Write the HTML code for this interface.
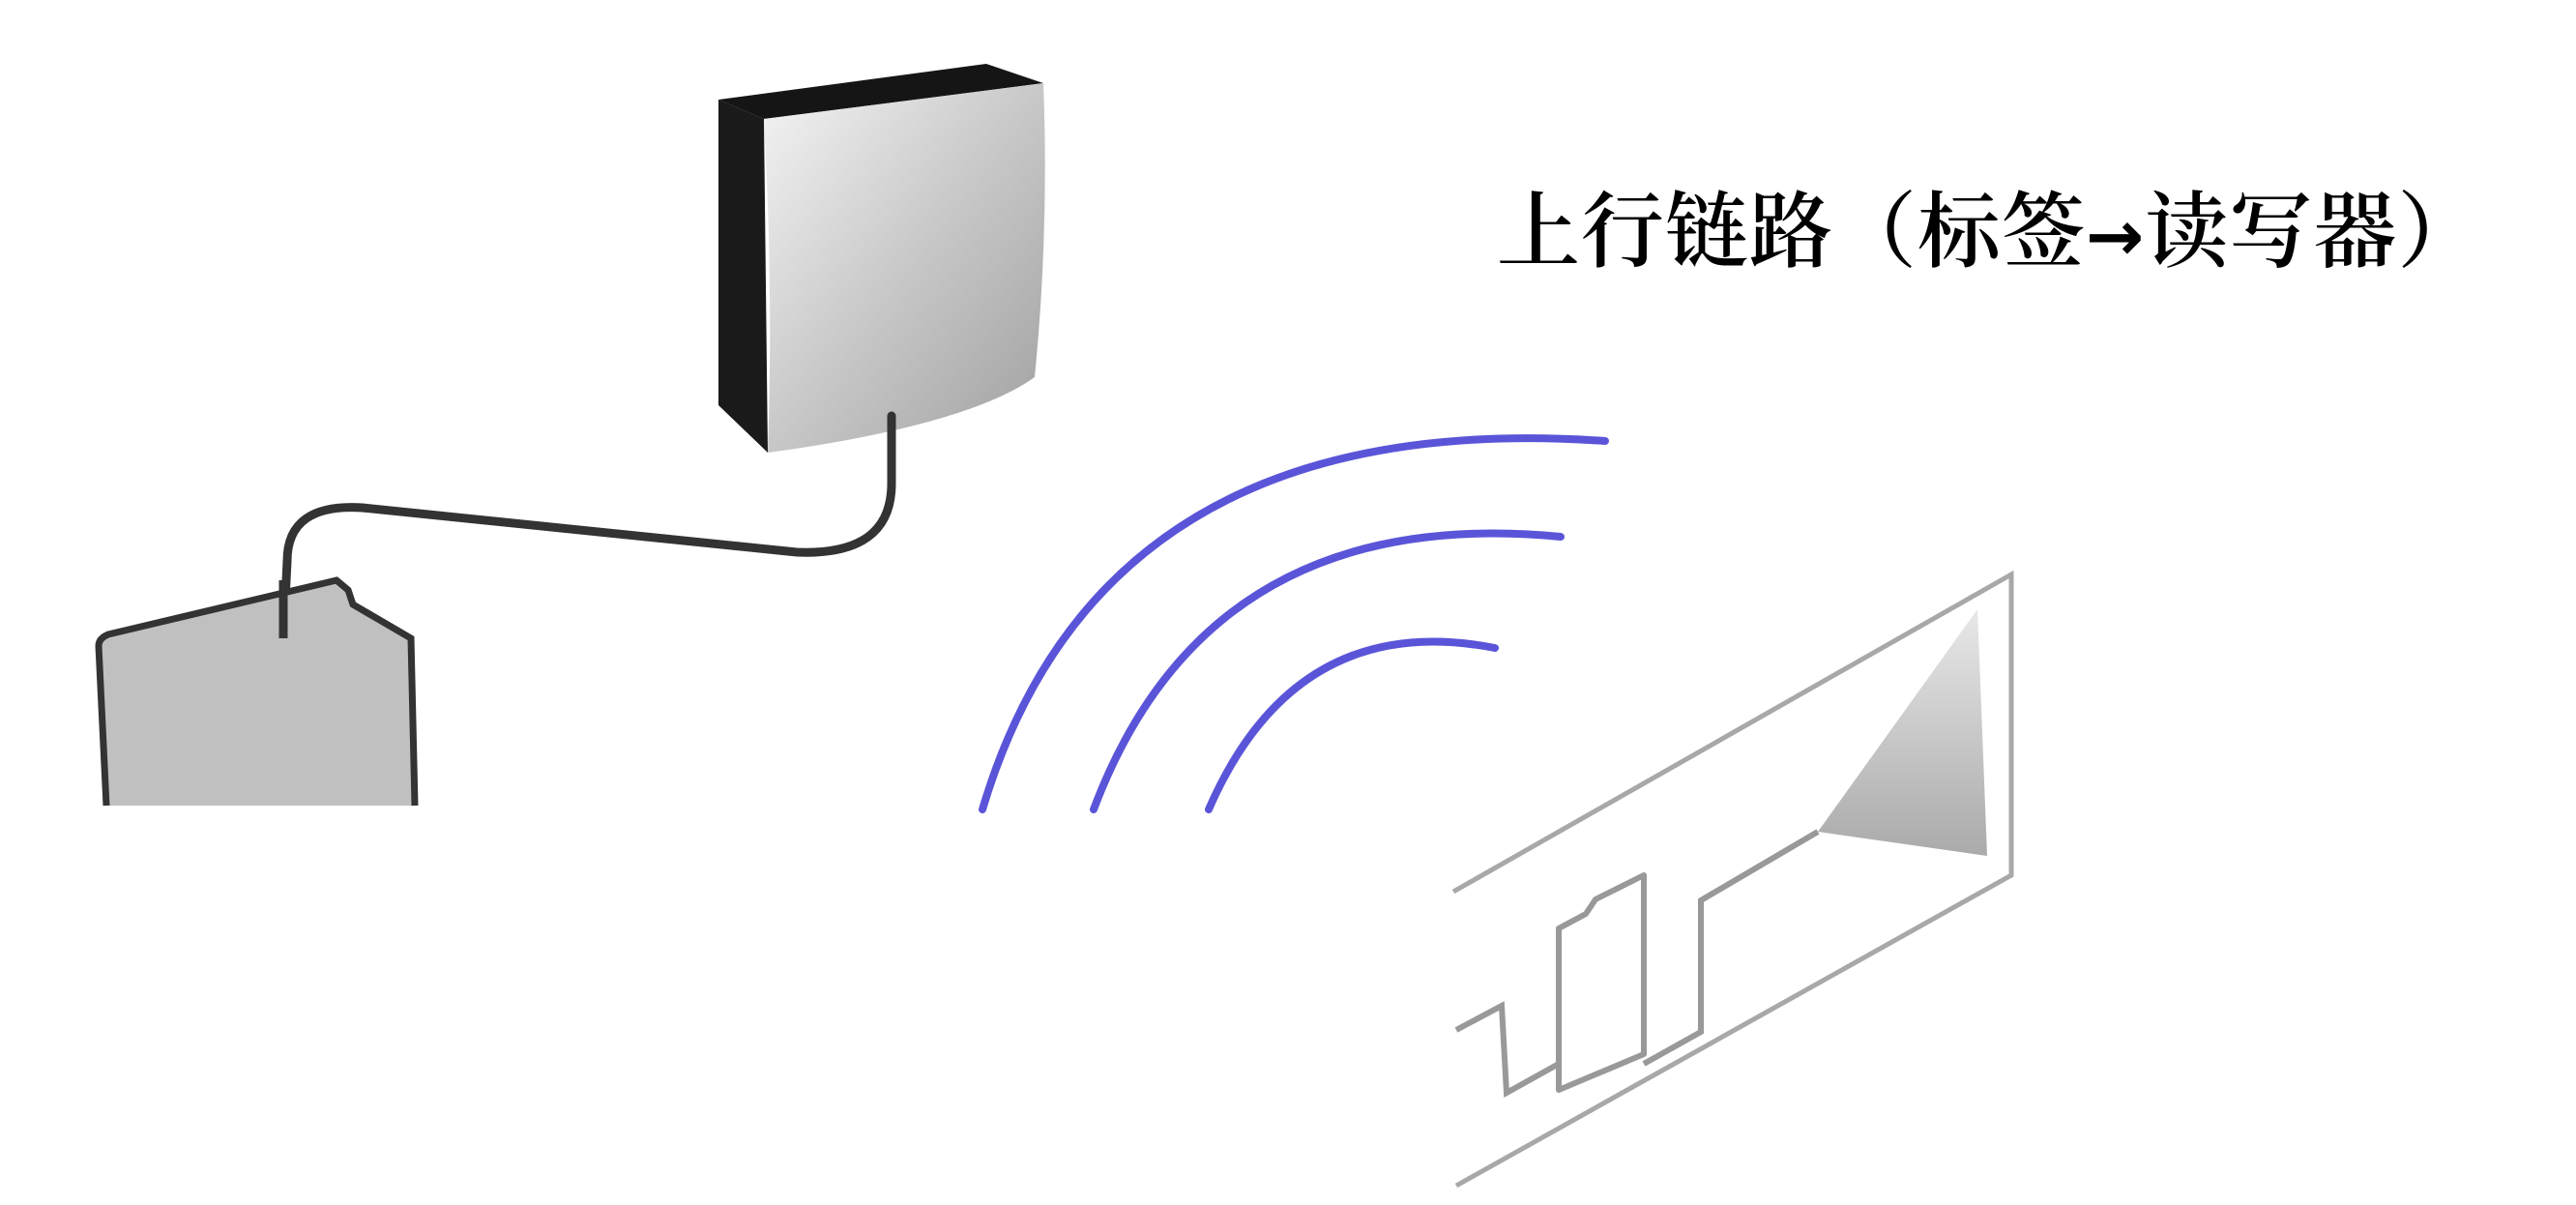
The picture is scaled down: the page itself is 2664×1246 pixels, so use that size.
<!DOCTYPE html>
<html><head><meta charset="utf-8"><style>
html,body{margin:0;padding:0;background:#fff;}
body{width:2664px;height:1246px;position:relative;overflow:hidden;}
.t{position:absolute;left:1548px;top:190px;font-family:"Liberation Serif","Noto Serif CJK SC",serif;font-size:86px;line-height:100px;white-space:nowrap;color:#000;font-weight:600;letter-spacing:1px;}
.a{font-family:"DejaVu Sans",sans-serif;font-weight:bold;font-size:72px;}
</style></head><body>
<svg width="2664" height="1246" style="position:absolute;left:0;top:0">
<defs>
<linearGradient id="g1" x1="0" y1="0" x2="1" y2="1">
<stop offset="0" stop-color="#f4f4f4"/><stop offset="0.5" stop-color="#c8c8c8"/><stop offset="1" stop-color="#a0a0a0"/>
</linearGradient>
<linearGradient id="g2" x1="0" y1="0" x2="0" y2="1">
<stop offset="0" stop-color="#e8e8e8"/><stop offset="1" stop-color="#aaaaaa"/>
</linearGradient>
</defs>
<polygon points="743,103 1020,66 1079,86 790,123" fill="#151515"/>
<polygon points="743,103 790,123 794,468 743,419" fill="#1a1a1a"/>
<path d="M790,123 L1079,86 Q1085,240 1070,390 Q1000,440 794,468 Q800,300 790,123 Z" fill="url(#g1)"/>
<path d="M922,430 L922,500 Q922,575 824,571 L375,525 Q297,520 297,580 L293,660" fill="none" stroke="#333" stroke-width="9" stroke-linecap="round"/>
<path d="M110,833 L102,668 Q102,660 112,656 L348,600 L360,610 L365,625 L425,660 L429,833" fill="#c0c0c0" stroke="#333" stroke-width="7"/>
<path d="M293,600 L293,660" stroke="#333" stroke-width="9"/>
<g fill="none" stroke="#5a55d8" stroke-width="8" stroke-linecap="round">
<path d="M1016,837 Q1140,420 1660,456"/>
<path d="M1131,837 Q1250,520 1614,555"/>
<path d="M1250,837 Q1340,630 1546,670"/>
</g>
<g fill="none" stroke="#a8a8a8" stroke-width="5">
<path d="M1503,922 L2080,594 L2080,905 L1506,1226"/>
</g>
<polygon points="2045,630 2055,885 1880,860" fill="url(#g2)"/>
<path d="M1880,860 L1759,931 L1759,1067 L1700,1100" fill="none" stroke="#999" stroke-width="6"/>
<path d="M1612,960 L1640,945 L1650,930 L1700,905 L1700,1090 L1612,1127 Z" fill="none" stroke="#999" stroke-width="6" stroke-linejoin="round"/>
<path d="M1612,1100 L1558,1130 L1553,1040 L1506,1065" fill="none" stroke="#999" stroke-width="6"/>
</svg>
<div class="t">上行链路（标签<span class="a">→</span>读写器）</div>
</body></html>
